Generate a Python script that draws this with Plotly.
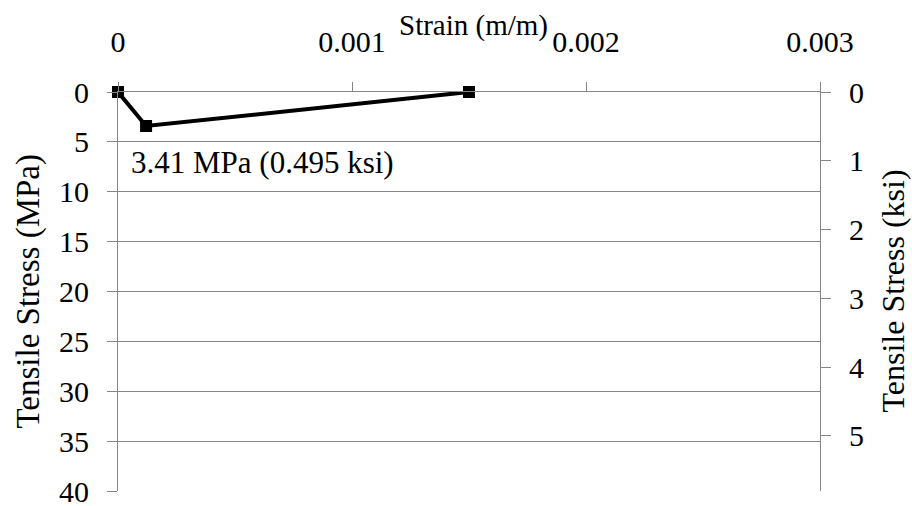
import plotly.graph_objects as go

# Measured tensile response
strain = [0.0, 0.00012, 0.0015]
stress_mpa = [0.0, 3.41, 0.0]

x_ticks = [0, 0.001, 0.002, 0.003]
x_tick_text = ["0", "0.001", "0.002", "0.003"]
mpa_ticks = [0, 5, 10, 15, 20, 25, 30, 35, 40]
ksi_ticks = [0, 1, 2, 3, 4, 5]

MPA_PER_KSI = 6.895
FONT = "Liberation Serif"
GRID = "#868686"

fig = go.Figure()

fig.add_trace(go.Scatter(
    x=strain, y=stress_mpa, mode="lines+markers",
    line=dict(color="black", width=4),
    marker=dict(symbol="square", size=12, color="black"),
    showlegend=False, xaxis="x", yaxis="y", cliponaxis=False,
))

# Secondary axis in ksi shares the same stress scale
fig.add_trace(go.Scatter(
    x=[None], y=[None], xaxis="x", yaxis="y2", showlegend=False,
    hoverinfo="skip",
))

peak = stress_mpa[1]
fig.add_annotation(
    x=0.0, xref="x", xanchor="left", xshift=11,
    y=peak, yref="y", yshift=-36, yanchor="middle",
    text=f"{peak:.2f} MPa ({peak / MPA_PER_KSI:.3f} ksi)",
    showarrow=False, font=dict(family=FONT, size=31, color="black"),
)

# Axis titles
fig.add_annotation(x=0.507, xref="paper", xanchor="center", y=1.0,
                   yref="paper", yshift=67, yanchor="middle",
                   text="Strain (m/m)", showarrow=False,
                   font=dict(family=FONT, size=29, color="black"))
fig.add_annotation(x=0, xref="paper", xanchor="center", xshift=-90,
                   y=0.5, yref="paper", yanchor="middle",
                   text="Tensile Stress (MPa)", textangle=-90, showarrow=False,
                   font=dict(family=FONT, size=33, color="black"))
fig.add_annotation(x=1, xref="paper", xanchor="center", xshift=72,
                   y=0.5, yref="paper", yanchor="middle",
                   text="Tensile Stress (ksi)", textangle=-90, showarrow=False,
                   font=dict(family=FONT, size=32, color="black"))

fig.update_layout(
    width=912, height=506,
    margin=dict(l=118, r=92, t=92, b=15, autoexpand=False),
    paper_bgcolor="white", plot_bgcolor="white",
    font=dict(family=FONT, size=30, color="black"),
    xaxis=dict(
        side="top", range=[0, 0.003], tickvals=x_ticks, ticktext=x_tick_text,
        showgrid=False, zeroline=False, showline=True, linecolor=GRID,
        linewidth=1, ticks="outside", ticklen=9, tickcolor=GRID,
        ticklabelstandoff=18, ticklabeloverflow="allow", automargin=False,
    ),
    yaxis=dict(
        range=[40, 0], tickvals=mpa_ticks, showgrid=True, gridcolor=GRID,
        gridwidth=1, zeroline=False, showline=True, linecolor=GRID,
        linewidth=1, ticks="outside", ticklen=10, tickcolor=GRID,
        ticklabelstandoff=12, ticklabeloverflow="allow", automargin=False,
    ),
    yaxis2=dict(
        overlaying="y", side="right", range=[40 / MPA_PER_KSI, 0],
        tickvals=ksi_ticks, showgrid=False, zeroline=False, showline=True,
        linecolor=GRID, linewidth=1, ticks="outside", ticklen=10,
        tickcolor=GRID, ticklabelstandoff=12, ticklabeloverflow="allow",
        automargin=False,
    ),
)

fig.write_html("out.html")
